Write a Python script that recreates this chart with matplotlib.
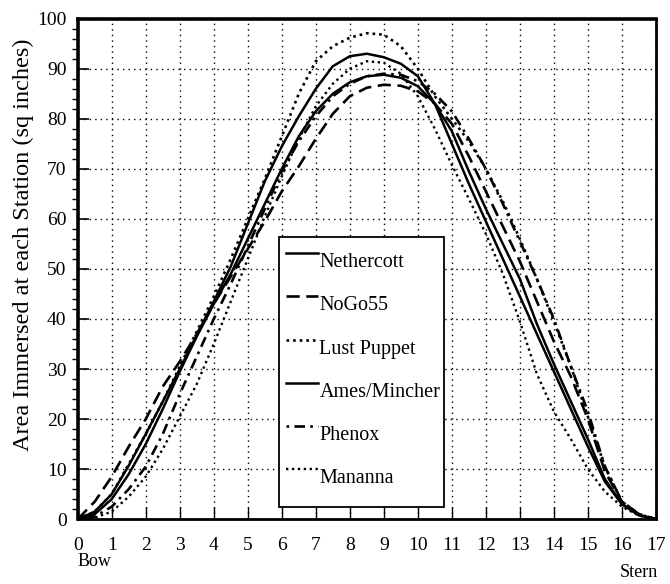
import numpy as np
import matplotlib
matplotlib.use('Agg')
import matplotlib.pyplot as plt
from matplotlib.patches import Rectangle
from matplotlib.lines import Line2D

plt.rcParams['font.family'] = ['Liberation Serif', 'DejaVu Serif']

# stations along the hull (half stations)
stations = np.arange(0, 17.5, 0.5)

nethercott = [0, 1.5, 5, 10.7, 17, 23.5, 30, 36.8, 43.5, 50.5, 59, 67.5, 74.5, 80.5,
              86, 90.5, 92.5, 93, 92.3, 91, 88.5, 83, 75, 67, 59.5, 52, 44.5, 37,
              29.5, 22, 14.5, 7.5, 3, 0.8, 0]
nogo55 = [0, 3.5, 8.5, 14.5, 20, 26.5, 31.5, 37, 43, 48.5, 54, 59.5, 65.5, 70.5,
          76, 81, 84.5, 86.2, 86.8, 86.6, 85.5, 83, 79, 72.5, 65.5, 58.5, 51.5, 43.5,
          35.5, 28.5, 20, 9.5, 3.5, 1, 0]
lust_puppet = [0, 1.5, 5, 11, 17, 23.5, 30.5, 37.5, 44.5, 52, 60, 68, 76.5, 85,
               91.5, 94.5, 96.2, 97.1, 96.8, 94.5, 90, 84.5, 80, 75.5, 70, 63.5, 56, 48,
               39.5, 30.5, 20.5, 10.5, 3.5, 1, 0]
ames_mincher = [0, 1, 4, 9, 15, 22, 29.5, 36.5, 43, 49, 56, 63, 70, 76.5,
                81.5, 85, 87.3, 88.5, 88.8, 88.2, 86.5, 83, 77.5, 69.5, 62, 55, 48, 39,
                31, 23.5, 16, 8, 3, 0.8, 0]
phenox = [0, 0.5, 2.5, 6, 10.5, 17, 25, 32.5, 40, 47, 54.5, 62, 69.5, 75.5,
          80.5, 84.5, 87, 88.5, 89, 88.8, 87.5, 85, 81.5, 76, 70, 63, 55.5, 48,
          40, 30.5, 21.5, 10.5, 3.5, 1, 0]
mananna = [0, 0.3, 1.5, 4.5, 8.5, 14, 20.5, 27, 35, 43.5, 52, 60.5, 68.5, 76,
           82.5, 87, 90, 91.5, 91.2, 89, 84.5, 78, 70.8, 64, 57, 49, 39.5, 29,
           21.5, 16, 10, 5.5, 2.5, 0.7, 0]

names = ['Nethercott', 'NoGo55', 'Lust Puppet', 'Ames/Mincher', 'Phenox', 'Mananna']
series = [nethercott, nogo55, lust_puppet, ames_mincher, phenox, mananna]
styles = ['-', (0, (5, 2.5)), (0, (1, 1.5)), '-', (0, (1, 2, 4, 2)), (0, (1, 1.5))]
widths = [1.8, 1.9, 1.9, 1.8, 1.9, 1.7]

fig = plt.figure(figsize=(6.7, 5.84), dpi=100)
ax = fig.add_axes([0.116, 0.111, 0.863, 0.857])

for name, vals, ls, lw in zip(names, series, styles, widths):
    ax.plot(stations, vals, color='black', linestyle=ls, linewidth=lw)

ax.set_xlim(0, 17)
ax.set_ylim(0, 100)
ax.set_xticks(range(0, 18))
ax.set_yticks(range(0, 101, 10))
ax.set_yticks(range(0, 101, 2), minor=True)
ax.tick_params(axis='both', direction='in', labelsize=14, colors='black')
ax.tick_params(axis='y', which='major', length=8, width=1.2, pad=8)
ax.tick_params(axis='y', which='minor', length=4, width=1)
ax.tick_params(axis='x', which='major', length=9, width=1, pad=13)
ax.grid(True, which='major', color='black', linestyle=(0, (1, 3)), linewidth=1)
for side in ['left', 'top']:
    ax.spines[side].set_linewidth(2.6)
for side in ['right', 'bottom']:
    ax.spines[side].set_linewidth(2)

ax.set_ylabel('Area Immersed at each Station (sq inches)', fontsize=17.5)
ax.yaxis.set_label_coords(-0.076, 0.548)

xt = ax.get_xaxis_transform()
ax.annotate('Bow', xy=(0.5, 0), xycoords=xt, xytext=(0, -42), textcoords='offset pixels',
            ha='center', va='center', fontsize=13)
ax.annotate('Stern', xy=(16.5, 0), xycoords=xt, xytext=(0, -53), textcoords='offset pixels',
            ha='center', va='center', fontsize=13)

# legend box drawn by hand: line sample sits above its label
box = Rectangle((0.348, 0.024), 0.285, 0.54, transform=ax.transAxes, facecolor='white',
                edgecolor='black', linewidth=1.3, zorder=5)
ax.add_patch(box)
top = 0.532
step = 0.0865
for i, (name, ls, lw) in enumerate(zip(names, styles, widths)):
    y = top - i * step
    ax.add_line(Line2D([0.361, 0.415], [y, y], transform=ax.transAxes, color='black',
                       linestyle=ls, linewidth=lw, zorder=6))
    ax.text(0.418, y - 0.019, name, transform=ax.transAxes, fontsize=14.5,
            ha='left', va='center', zorder=6)

fig.savefig('out.png', dpi=100)
